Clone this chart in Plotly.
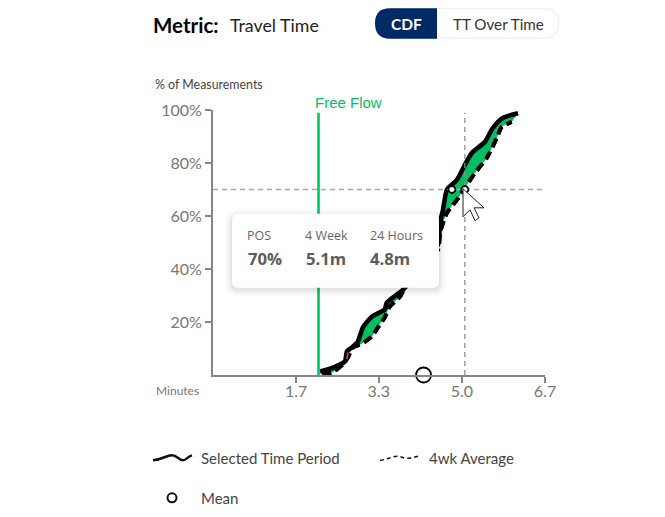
import plotly.graph_objects as go

# ---- data ----
selected_minutes = [2.15, 2.41, 2.65, 2.69, 2.81, 2.91, 3.01, 3.19, 3.45, 3.49, 3.69, 3.82, 4.52,
                    4.56, 4.62, 4.70, 4.90, 5.06, 5.20, 5.46, 5.62, 5.82, 6.13]
selected_pct = [1.3, 2.8, 5.1, 8.9, 10.7, 12.6, 17.9, 22.0, 24.7, 27.3, 30.3, 32.2, 49.2,
                57.4, 62.3, 69.9, 73.6, 79.3, 83.8, 87.9, 93.2, 97.0, 98.8]
average_minutes = [2.19, 2.39, 2.61, 2.71, 2.81, 2.99, 3.19, 3.31, 3.45, 3.55, 3.76, 3.86, 4.52,
                   4.56, 4.70, 4.90, 5.06, 5.26, 5.50, 5.70, 5.80, 6.00]
average_pct = [0.2, 0.9, 4.0, 6.6, 10.4, 11.8, 14.5, 17.9, 21.7, 25.8, 29.6, 33.0, 47.3,
               53.7, 61.2, 66.1, 70.6, 76.2, 81.9, 89.4, 93.6, 95.5]
accent_minutes = [2.69, 2.71]
accent_pct = [6.0, 8.5]
free_flow_minutes = 2.12
mean_minutes = 4.23
pos_pct = 70
pos_selected = 4.8
pos_average = 5.06
crosshair_top = 99
x_ticks = [1.67, 3.33, 5.0, 6.67]
x_tick_labels = ["1.7", "3.3", "5.0", "6.7"]
y_ticks = [20, 40, 60, 80, 100]
y_tick_labels = ["20%", "40%", "60%", "80%", "100%"]

# ---- page geometry ----
W, H = 665, 517
L, R, T, B = 213, 545, 110, 375.5
NAVY, GREEN, BLACK = "#002a66", "#00bf63", "#000000"


def px(x):
    return (x - L) / (R - L)


def py(y):
    return (B - y) / (B - T)


def round_rect(x0, y0, x1, y1, r):
    return (f"M{px(x0 + r)},{py(y0)} L{px(x1 - r)},{py(y0)} Q{px(x1)},{py(y0)} {px(x1)},{py(y0 + r)} "
            f"L{px(x1)},{py(y1 - r)} Q{px(x1)},{py(y1)} {px(x1 - r)},{py(y1)} "
            f"L{px(x0 + r)},{py(y1)} Q{px(x0)},{py(y1)} {px(x0)},{py(y1 - r)} "
            f"L{px(x0)},{py(y0 + r)} Q{px(x0)},{py(y0)} {px(x0 + r)},{py(y0)} Z")


def poly(points):
    return "M" + " L".join(f"{px(a)},{py(b)}" for a, b in points) + " Z"


def curve(points):
    a = [f"{px(p)},{py(q)}" for p, q in points]
    out = "M" + a[0]
    for i in range(1, len(a), 3):
        out += " C" + " ".join(a[i:i + 3])
    return out


fig = go.Figure()
fig.add_trace(go.Scatter(x=average_minutes, y=average_pct, mode="lines", cliponaxis=False,
                         line=dict(color=BLACK, width=4, dash="9px,5px", shape="spline", smoothing=0.6)))
fig.add_trace(go.Scatter(x=selected_minutes, y=selected_pct, mode="lines", cliponaxis=False,
                         fill="tonexty", fillcolor=GREEN,
                         line=dict(color=BLACK, width=4.6, shape="spline", smoothing=0.6)))
fig.add_trace(go.Scatter(x=average_minutes, y=average_pct, mode="lines", cliponaxis=False,
                         line=dict(color=BLACK, width=4, dash="9px,5px", shape="spline", smoothing=0.6)))
fig.add_trace(go.Scatter(x=accent_minutes, y=accent_pct, mode="lines",
                         line=dict(color="#e8405a", width=1.5)))
fig.add_trace(go.Scatter(x=[free_flow_minutes, free_flow_minutes], y=[0, crosshair_top], mode="lines",
                         line=dict(color="#00c465", width=2.6)))
fig.add_trace(go.Scatter(x=[pos_average, pos_average], y=[0, crosshair_top], mode="lines",
                         line=dict(color="#8f8f8f", width=1.3, dash="5px,4px")))
fig.add_trace(go.Scatter(x=[0, x_ticks[-1]], y=[pos_pct, pos_pct], mode="lines",
                         line=dict(color="#a9a9b2", width=1.3, dash="5px,4px")))
fig.add_trace(go.Scatter(x=[pos_selected, pos_average], y=[pos_pct, pos_pct], mode="markers",
                         marker=dict(size=7, color="white", line=dict(color=BLACK, width=1.8))))
fig.add_trace(go.Scatter(x=[mean_minutes], y=[0], mode="markers", cliponaxis=False,
                         marker=dict(size=15, color="white", line=dict(color=BLACK, width=1.8))))

shapes = []
# tooltip with soft shadow
for grow, alpha in [(7, 0.015), (5, 0.02), (3, 0.03), (1.5, 0.04)]:
    shapes.append(dict(type="path", xref="paper", yref="paper", layer="above", line_width=0,
                       fillcolor=f"rgba(0,0,0,{alpha})",
                       path=round_rect(232 - grow, 214 - grow + 2, 439 + grow, 288 + grow + 2, 6 + grow)))
shapes.append(dict(type="path", xref="paper", yref="paper", layer="above", line_width=0,
                   fillcolor="white", path=round_rect(232, 214, 439, 288, 6)))
# pointer
shapes.append(dict(type="path", xref="paper", yref="paper", layer="above", fillcolor="white",
                   line=dict(color="#222222", width=1),
                   path=poly([(463, 189), (463, 217), (470, 210), (475, 221), (479, 218), (474, 208), (484, 208)])))
# toggle
shapes.append(dict(type="path", xref="paper", yref="paper", layer="above", fillcolor="white",
                   line=dict(color="#e2eff9", width=1), path=round_rect(376, 8.5, 559, 38, 14.5)))
shapes.append(dict(type="path", xref="paper", yref="paper", layer="above", fillcolor=NAVY, line_width=0,
                   path=(f"M{px(390)},{py(8)} L{px(437)},{py(8)} L{px(437)},{py(38.5)} L{px(390)},{py(38.5)} "
                         f"Q{px(375)},{py(38.5)} {px(375)},{py(23)} Q{px(375)},{py(8)} {px(390)},{py(8)} Z")))
# legend keys
shapes.append(dict(type="path", xref="paper", yref="paper", line=dict(color="#111111", width=2.5),
                   path=curve([(153, 461), (163, 460), (166, 456), (172, 456), (177, 456), (179, 461), (183, 461),
                               (186, 461), (188, 457), (192, 456)])))
shapes.append(dict(type="path", xref="paper", yref="paper", line=dict(color="#111111", width=1.5, dash="4px,3px"),
                   path=curve([(380, 461), (388, 460), (392, 457), (397, 457), (402, 457), (403, 459), (407, 459),
                               (411, 459), (414, 458), (418, 457)])))
shapes.append(dict(type="circle", xref="paper", yref="paper", fillcolor="white",
                   line=dict(color="#111111", width=2),
                   x0=px(167.5), x1=px(176.5), y0=py(503), y1=py(494)))

annots = []


def label(text, x, y, size, color, family="Lato", anchor="left", bold=False):
    annots.append(dict(xref="paper", yref="paper", x=px(x), y=py(y), xanchor=anchor, yanchor="middle",
                       showarrow=False, align=anchor, text=f"<b>{text}</b>" if bold else text,
                       font=dict(size=size, color=color, family=family)))


label("Metric:", 151, 25, 20.5, "#000000", bold=True)
label("Travel Time", 228, 25, 17.8, "#222222")
label("CDF", 406, 23.5, 15.5, "#ffffff", bold=True, anchor="center")
label("TT Over Time", 498, 24, 15.2, "#333333", anchor="center")
label("% of Measurements", 153, 84, 12.4, "#444444")
label("Free Flow", 313, 102, 15, "#00c060", family="Liberation Sans")
label("Minutes", 154, 391, 12, "#777777")
label("POS", 245, 236, 12.5, "#666666", family="Open Sans")
label("4 Week", 303, 236, 12.5, "#666666", family="Open Sans")
label("24 Hours", 368, 236, 12.5, "#666666", family="Open Sans")
label(f"{pos_pct}%", 246, 259, 16.7, "#5c5c5c", family="Open Sans", bold=True)
label(f"{pos_average:.1f}m", 304, 259, 16.7, "#5c5c5c", family="Open Sans", bold=True)
label(f"{pos_selected:.1f}m", 368, 259, 16.7, "#5c5c5c", family="Open Sans", bold=True)
label("Selected Time Period", 199, 458.5, 15, "#444444")
label("4wk Average", 427, 458.5, 15, "#444444")
label("Mean", 199, 498.5, 15, "#444444")

axis_common = dict(showgrid=False, zeroline=False, showline=True, linecolor="#85858c", linewidth=2,
                   ticks="outside", tickcolor="#85858c", tickwidth=2, ticklen=6,
                   tickfont=dict(family="Lato", size=16, color="#777777"))
fig.update_layout(
    width=W, height=H, margin=dict(l=L, r=W - R, t=T, b=H - B, pad=0),
    showlegend=False, paper_bgcolor="white", plot_bgcolor="white",
    xaxis=dict(range=[0, x_ticks[-1]], tickmode="array", tickvals=x_ticks, ticktext=x_tick_labels,
               ticklabelstandoff=-5, **axis_common),
    yaxis=dict(range=[0, 100], tickmode="array", tickvals=y_ticks, ticktext=y_tick_labels, **axis_common),
    shapes=shapes, annotations=annots,
)
fig.write_html("out.html", config=dict(displayModeBar=False),
               post_script="document.body.style.margin='0';document.documentElement.style.overflow='hidden';")
